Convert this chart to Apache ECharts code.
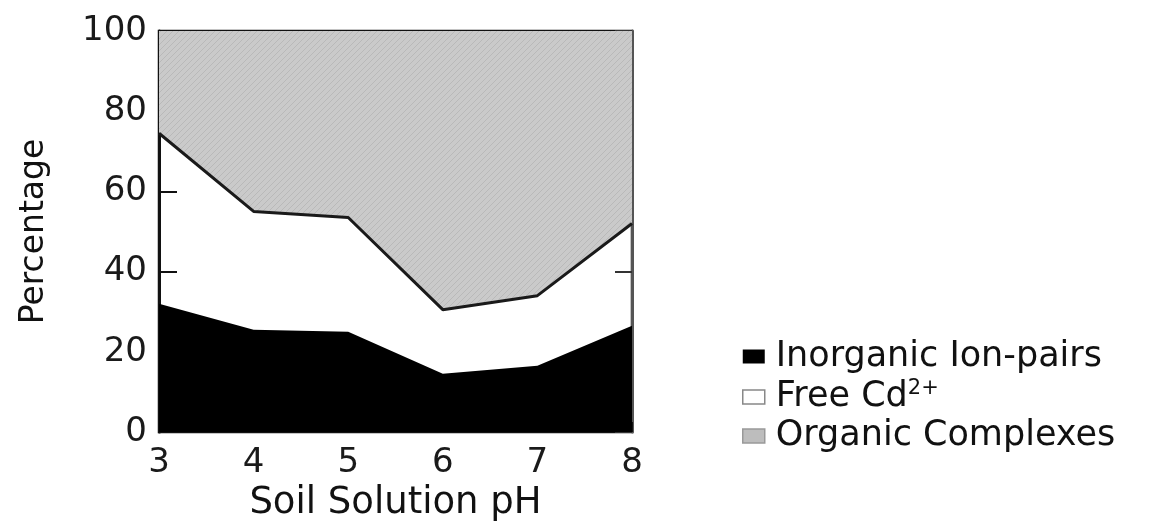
<!DOCTYPE html>
<html>
<head>
<meta charset="utf-8">
<script src="https://cdn.jsdelivr.net/npm/echarts@6/dist/echarts.min.js"></script>
<style>
  html, body { margin: 0; padding: 0; background: #fff; }
  #chart { width: 1163px; height: 522px; }
</style>
</head>
<body>
<div id="chart"></div>
<script>
// Cadmium speciation in soil solution, % of total, by pH
const phValues = ['3', '4', '5', '6', '7', '8'];
const inorganicIonPairs = [32, 25.5, 25, 14.5, 16.5, 26.5];
const freeCd = [42.5, 29.5, 28.5, 16, 17.5, 25.5];
const organicComplexes = [25.5, 45, 46.5, 69.5, 66, 48];
const yTicks = [0, 20, 40, 60, 80, 100];
const seriesNames = ['Inorganic Ion-pairs', 'Free Cd2+', 'Organic Complexes'];

const FONT = 'DejaVu Sans';

// fine diagonal hatch used for the organic-complex fill
function hatchPattern() {
  const c = document.createElement('canvas');
  c.width = 6; c.height = 6;
  const g = c.getContext('2d');
  g.fillStyle = '#cacaca';
  g.fillRect(0, 0, 6, 6);
  g.strokeStyle = '#b9b9b9';
  g.lineWidth = 1;
  g.beginPath();
  g.moveTo(0, 6); g.lineTo(6, 0);
  g.moveTo(-3, 3); g.lineTo(3, -3);
  g.moveTo(3, 9); g.lineTo(9, 3);
  g.stroke();
  return c;
}
const organicFill = { image: hatchPattern(), repeat: 'repeat' };

const chart = echarts.init(document.getElementById('chart'), null, { renderer: 'canvas' });
chart.setOption({
  animation: false,
  backgroundColor: '#fff',
  grid: {
    left: 159, right: 531, top: 31, bottom: 90,
    outerBoundsMode: 'none', containLabel: false,
    show: true, borderColor: '#111', borderWidth: 2.5, backgroundColor: 'transparent'
  },
  legend: {
    orient: 'vertical',
    left: 737, top: 334,
    itemWidth: 22, itemHeight: 14,
    itemGap: 4,
    icon: 'rect',
    textStyle: {
      fontFamily: FONT, fontSize: 35, color: '#111', padding: [0, 0, 0, 6],
      rich: {
        sup: { fontFamily: FONT, fontSize: 21, color: '#111', verticalAlign: 'top', lineHeight: 38 }
      }
    },
    formatter: name => name === 'Free Cd2+' ? 'Free Cd{sup|2+}' : name,
    data: [
      { name: seriesNames[0], itemStyle: { color: '#000', borderWidth: 0 } },
      { name: seriesNames[1], itemStyle: { color: '#fff', borderColor: '#888', borderWidth: 1.5 } },
      { name: seriesNames[2], itemStyle: { color: '#bdbdbd', borderColor: '#999', borderWidth: 1.5 } }
    ]
  },
  xAxis: {
    type: 'category', data: phValues, boundaryGap: false,
    name: 'Soil Solution pH', nameLocation: 'middle', nameGap: 50,
    nameTextStyle: { fontFamily: FONT, fontSize: 37, color: '#111' },
    axisLine: { show: false },
    axisTick: { show: true, inside: true, length: 10, lineStyle: { color: '#111', width: 2 } },
    axisLabel: { margin: 14, fontFamily: FONT, fontSize: 34, color: '#1a1a1a' },
    splitLine: { show: false }
  },
  yAxis: [
    {
      type: 'value', min: 0, max: 100, interval: 20,
      name: 'Percentage', nameLocation: 'middle', nameGap: 108,
      nameTextStyle: { fontFamily: FONT, fontSize: 33, color: '#111' },
      axisLine: { show: true, lineStyle: { color: '#111', width: 3 } },
      axisTick: { show: true, inside: true, length: 18, lineStyle: { color: '#111', width: 2 } },
      axisLabel: {
        margin: 12, fontFamily: FONT, fontSize: 34, color: '#1a1a1a',
        formatter: v => yTicks.includes(v) ? String(v) : ''
      },
      splitLine: { show: false }
    },
    {
      type: 'value', min: 0, max: 100, interval: 20, position: 'right',
      axisLine: { show: true, lineStyle: { color: '#555', width: 3 } },
      axisTick: { show: true, inside: true, length: 17, lineStyle: { color: '#333', width: 2 } },
      axisLabel: { show: false },
      splitLine: { show: false }
    }
  ],
  series: [
    {
      name: seriesNames[0], type: 'line', stack: 'cd', symbol: 'none', z: 2,
      lineStyle: { width: 0 },
      itemStyle: { color: '#000' },
      areaStyle: { color: '#000', opacity: 1 },
      data: inorganicIonPairs
    },
    {
      // free Cd band is left unfilled so the white page shows through
      name: seriesNames[1], type: 'line', stack: 'cd', symbol: 'none', z: 4,
      lineStyle: { width: 3, color: '#1a1a1a' },
      itemStyle: { color: '#fff' },
      areaStyle: { color: '#fff', opacity: 0 },
      data: freeCd
    },
    {
      name: seriesNames[2], type: 'line', stack: 'cd', symbol: 'none', z: 3,
      lineStyle: { width: 0 },
      itemStyle: { color: '#c4c4c4' },
      areaStyle: { color: organicFill, opacity: 1 },
      data: organicComplexes
    }
  ]
});
</script>
</body>
</html>
